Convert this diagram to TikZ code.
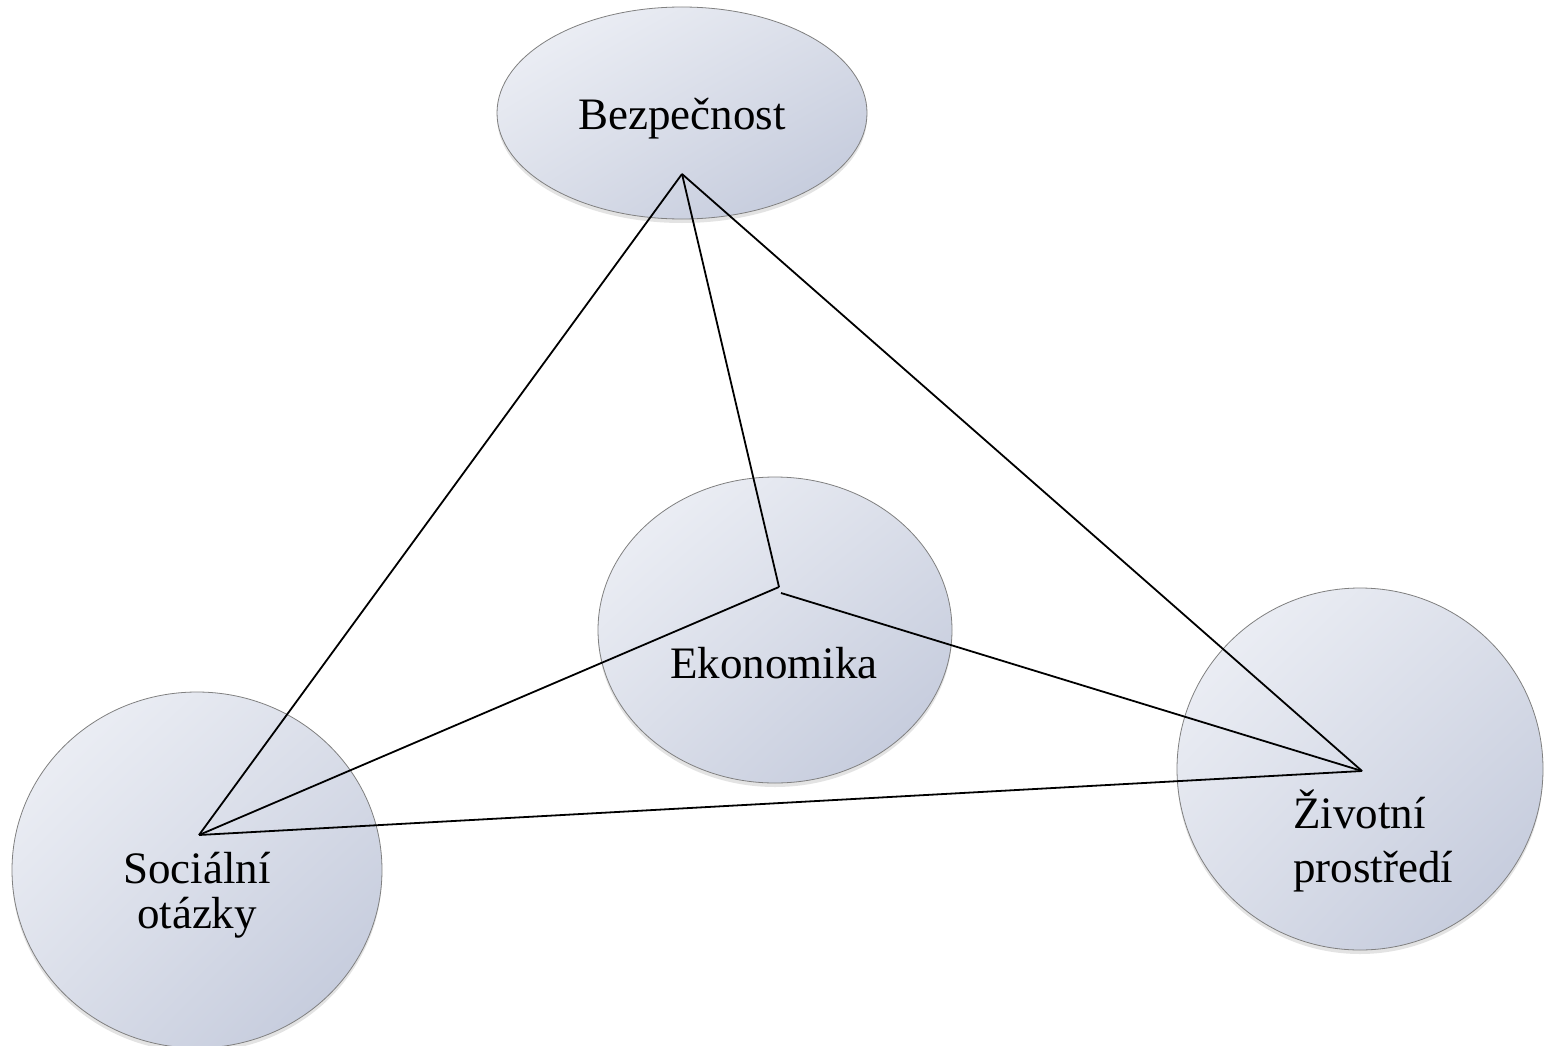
\documentclass[tikz,border=0pt]{standalone}
\usepackage{fontspec}
\setmainfont{Liberation Serif}
\usetikzlibrary{shapes.geometric,shadows,shadings}
\begin{document}
\begin{tikzpicture}[x=1pt,y=-1pt,
  blob/.style={ellipse, inner sep=0pt, draw=black!50, line width=0.8pt,
    upper left=blobA, upper right=blobB, lower left=blobB, lower right=blobC,
    drop shadow={opacity=0.22, shadow xshift=0pt, shadow yshift=-4pt}},
  lbl/.style={font=\fontsize{45}{45}\selectfont, inner sep=0pt},
  conn/.style={draw=black, line width=1.8pt}]
\definecolor{blobA}{HTML}{F1F3F8}
\definecolor{blobB}{HTML}{DADEE9}
\definecolor{blobC}{HTML}{BFC6D9}
\useasboundingbox (0,0) rectangle (1544,1046);
\fill[white] (0,0) rectangle (1544,1046);
% shapes
\node[blob, minimum width=370pt, minimum height=212pt] (bez) at (682,113) {};
\node[blob, minimum width=354pt, minimum height=306pt] (eko) at (775,630) {};
\node[blob, minimum width=370pt, minimum height=356pt] (soc) at (197,870) {};
\node[blob, minimum width=366pt, minimum height=362pt] (ziv) at (1360,769) {};
% labels
\node[lbl, anchor=base] (tbez) at (682,130) {Bezpečnost};
\node[lbl, anchor=base] (teko) at (774,678) {Ekonomika};
\node[lbl, anchor=base, align=center] (tsoc) at (197,928) {Sociální\\otázky};
\node[lbl, anchor=base west, align=left, font=\fontsize{45}{54}\selectfont] (tziv) at (1293,882) {Životní\\prostředí};
% connector points
\coordinate (pb) at (682,174);
\coordinate (pe) at (779,587);
\coordinate (pe2) at (781,593);
\coordinate (ps) at (199,835);
\coordinate (pz) at (1362,771);
\draw[conn] (pb) -- (pe);
\draw[conn] (pe) -- (ps);
\draw[conn] (pe2) -- (pz);
\draw[conn] (pb) -- (ps);
\draw[conn] (pb) -- (pz);
\draw[conn] (ps) -- (pz);
\end{tikzpicture}
\end{document}
